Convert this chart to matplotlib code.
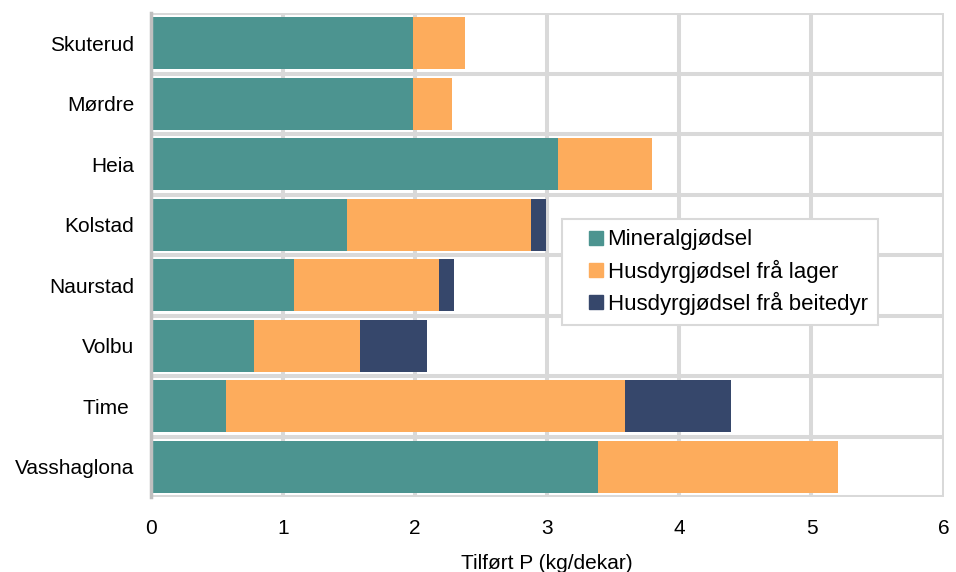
import numpy as np
import matplotlib.pyplot as plt
from matplotlib.lines import Line2D

plt.rcParams['font.family'] = ['Liberation Sans', 'DejaVu Sans']

# data (kg P per dekar)
sites = ['Skuterud', 'Mørdre', 'Heia', 'Kolstad', 'Naurstad', 'Volbu', 'Time ', 'Vasshaglona']
mineral = [1.98, 1.98, 3.08, 1.48, 1.08, 0.78, 0.57, 3.38]
lager = [0.40, 0.30, 0.71, 1.40, 1.10, 0.80, 3.02, 1.82]
beite = [0.00, 0.00, 0.00, 0.11, 0.11, 0.51, 0.80, 0.00]
labels = ['Mineralgjødsel', 'Husdyrgjødsel frå lager', 'Husdyrgjødsel frå beitedyr']

c_min = '#4C9490'
c_lag = '#FDAC5C'
c_bei = '#36476B'
grid_c = '#D9D9D9'

fig = plt.figure(figsize=(9.56, 5.72), dpi=100)
ax = fig.add_axes([0.158, 0.131, 0.829, 0.846])

y = np.arange(len(sites))
mineral = np.array(mineral)
lager = np.array(lager)
beite = np.array(beite)
h = 0.86

ax.barh(y, mineral, height=h, color=c_min, zorder=3)
ax.barh(y, lager, left=mineral, height=h, color=c_lag, zorder=3)
ax.barh(y, beite, left=mineral + lager, height=h, color=c_bei, zorder=3)

ax.set_xlim(0, 6)
ax.set_ylim(len(sites) - 0.5, -0.5)
ax.set_yticks(y)
ax.set_yticklabels(sites, fontsize=15)
ax.set_yticks(np.arange(-0.5, len(sites)), minor=True)
ax.set_xticks(range(7))
ax.tick_params(axis='x', labelsize=15, length=0, pad=16)
ax.tick_params(axis='y', which='both', length=0, pad=12)

ax.grid(axis='x', which='major', color=grid_c, linewidth=2.9, zorder=1)
ax.grid(axis='y', which='minor', color=grid_c, linewidth=2.9, zorder=1)
ax.grid(axis='y', which='major', visible=False)

for s in ['top', 'right', 'bottom']:
    ax.spines[s].set_visible(False)
ax.spines['left'].set_color('#BFBFBF')
ax.spines['left'].set_linewidth(2.5)
ax.spines['left'].set_zorder(4)

ax.set_xlabel('Tilført P (kg/dekar)', fontsize=15, labelpad=11)

handles = [Line2D([], [], linestyle='none', marker='s', markersize=9.4,
                  markerfacecolor=c, markeredgecolor=c) for c in (c_min, c_lag, c_bei)]
leg = ax.legend(handles, labels, loc='upper left', bbox_to_anchor=(0.518, 0.574),
                fontsize=16, frameon=True, fancybox=False, framealpha=1,
                edgecolor=grid_c, handlelength=2.16, handletextpad=-0.54,
                borderpad=0.45, labelspacing=0.42, borderaxespad=0)
leg.get_frame().set_linewidth(1.5)
leg.set_zorder(5)

plt.savefig('out.png', dpi=100)
